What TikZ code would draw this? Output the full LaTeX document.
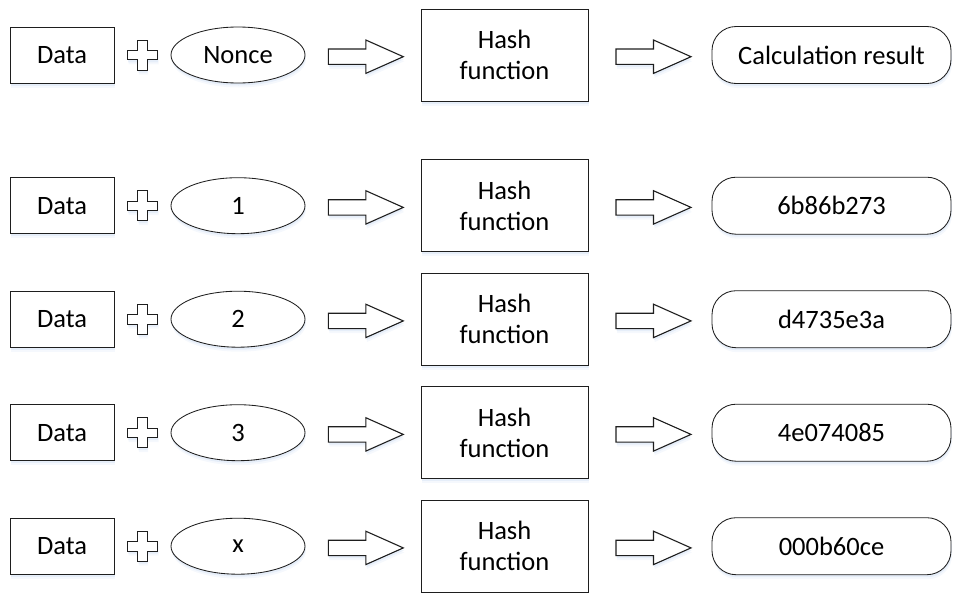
\documentclass[tikz,border=0pt]{standalone}
\usepackage{fontspec}
\setmainfont{Carlito}
\usetikzlibrary{shapes.geometric,shadows}
\definecolor{shadowblue}{RGB}{175,200,235}
\definecolor{outline}{RGB}{30,30,30}
\tikzset{
  shape line/.style={draw=outline, line width=0.85pt, fill=white},
  soft shadow/.style={
    drop shadow={shadow xshift=1pt, shadow yshift=-4.5pt, fill=shadowblue, opacity=0.12},
    drop shadow={shadow xshift=0.5pt, shadow yshift=-2.5pt, fill=shadowblue, opacity=0.22}},
  label text/.style={font=\fontsize{26.5}{31}\selectfont, text=black, inner sep=0pt, align=center},
  databox/.style={shape line, soft shadow, label text, rectangle, minimum width=104pt, minimum height=56pt},
  noncebox/.style={shape line, soft shadow, label text, ellipse, minimum width=134pt, minimum height=56pt},
  hashbox/.style={shape line, soft shadow, label text, rectangle, minimum width=167pt, minimum height=92pt},
  resultbox/.style={shape line, soft shadow, label text, rectangle, rounded corners=24pt, minimum width=239pt, minimum height=57pt},
  pics/plus sign/.style={code={
    \draw[shape line, line width=0.8pt, soft shadow]
      (-4.7,-15) -- (4.7,-15) -- (4.7,-4.8) -- (15,-4.8) -- (15,4.8) -- (4.7,4.8) -- (4.7,15)
      -- (-4.7,15) -- (-4.7,4.8) -- (-15,4.8) -- (-15,-4.8) -- (-4.7,-4.8) -- cycle;}},
  pics/block arrow/.style={code={
    \draw[shape line, line width=1.1pt, soft shadow]
      (-37.5,-7.7) -- (0,-7.7) -- (0,-16.7) -- (37.5,0) -- (0,16.7)
      -- (0,7.7) -- (-37.5,7.7) -- cycle;}},
}
\begin{document}
\begin{tikzpicture}[x=1pt, y=-1pt]
  \useasboundingbox (0,0) rectangle (953,592);
  \foreach \i/\y/\v/\r in {1/55/Nonce/Calculation result,
                           2/205.7/1/6b86b273,
                           3/319.2/2/d4735e3a,
                           4/432.7/3/4e074085,
                           5/546.2/x/000b60ce}{
    \node[databox]  (data\i)   at (62,\y)    {Data};
    \pic at (142.5,\y) {plus sign};
    \node[noncebox] (nonce\i)  at (238,\y)   {\v};
    \pic at (365.8,{\y+1.7}) {block arrow};
    \node[hashbox]  (hash\i)   at (504.5,\y) {Hash\\function};
    \pic at (653.5,{\y+1.7}) {block arrow};
    \node[resultbox] (result\i) at (831.5,\y) {\r};
  }
\end{tikzpicture}
\end{document}
